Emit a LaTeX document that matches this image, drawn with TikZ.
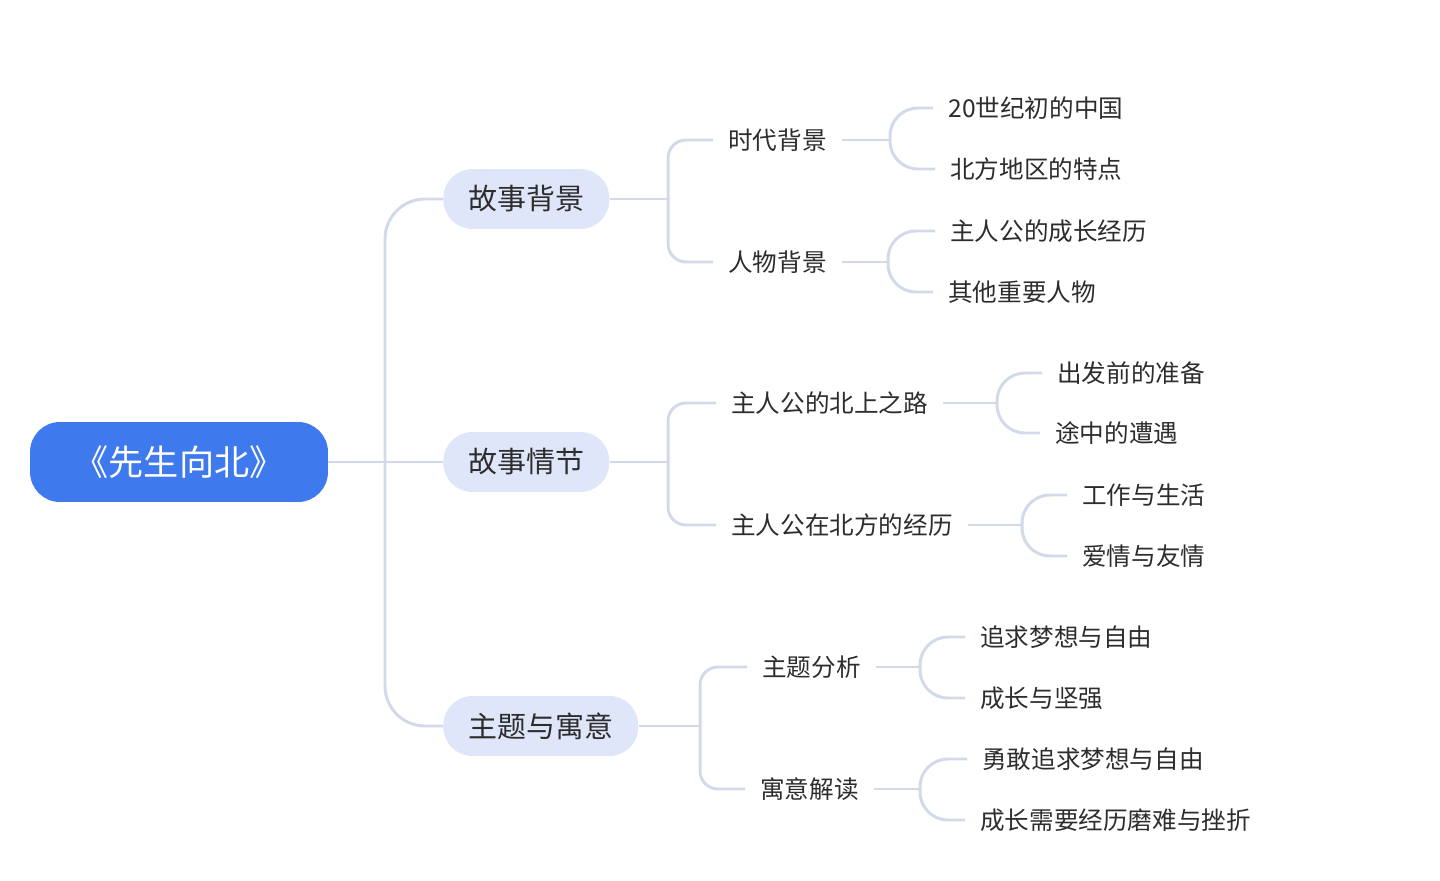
\documentclass[tikz,border=0pt]{standalone}
\usepackage{fontspec}
\newfontfamily\cjk{Noto Sans CJK SC}
\usetikzlibrary{positioning}

\definecolor{rootblue}{RGB}{62,121,237}
\definecolor{pillblue}{RGB}{224,230,250}
\definecolor{linkgray}{RGB}{210,217,233}
\definecolor{textgray}{RGB}{45,45,45}

\tikzset{
  rootnode/.style={fill=rootblue,text=white,rectangle,rounded corners=0.6cm,minimum width=5.96cm,minimum height=1.6cm,font=\cjk\fontsize{20}{24}\selectfont},
  pillnode/.style={fill=pillblue,text=textgray,rectangle,rounded corners=0.58cm,minimum height=1.2cm,inner xsep=0.5cm,anchor=west,font=\cjk\fontsize{16.5}{20}\selectfont},
  topicnode/.style={text=textgray,inner xsep=0.3cm,anchor=west,font=\cjk\fontsize{14}{17}\selectfont},
  link/.style={draw=linkgray,line width=1.7pt},
}

\begin{document}
\begin{tikzpicture}[x=0.02cm,y=-0.02cm]

    \useasboundingbox (0,0) rectangle (1440,881);

    % root
    \node[rootnode](root)at(179,462){《先生向北》};

    % first level
    \node[pillnode](bg)at(443,199){故事背景};
    \node[pillnode](plot)at(443,462){故事情节};
    \node[pillnode](theme)at(443,726){主题与寓意};

    % second level
    \node[topicnode](era)at(713,140){时代背景};
    \node[topicnode](people)at(713,262){人物背景};
    \node[topicnode](road)at(716,403){主人公的北上之路};
    \node[topicnode](north)at(716,525){主人公在北方的经历};
    \node[topicnode](analysis)at(747,667){主题分析};
    \node[topicnode](meaning)at(745,789){寓意解读};

    % third level
    \node[topicnode](eraa)at(933,108){20世纪初的中国};
    \node[topicnode](erab)at(935,169){北方地区的特点};
    \node[topicnode](peoplea)at(935,231){主人公的成长经历};
    \node[topicnode](peopleb)at(933,292){其他重要人物};
    \node[topicnode](roada)at(1042,373){出发前的准备};
    \node[topicnode](roadb)at(1040,433){途中的遭遇};
    \node[topicnode](northa)at(1067,495){工作与生活};
    \node[topicnode](northb)at(1067,556){爱情与友情};
    \node[topicnode](analysisa)at(965,637){追求梦想与自由};
    \node[topicnode](analysisb)at(965,698){成长与坚强};
    \node[topicnode](meaninga)at(967,759){勇敢追求梦想与自由};
    \node[topicnode](meaningb)at(965,820){成长需要经历磨难与挫折};

    % root to first level
    \coordinate(f0)at(385,462);
    \draw[link](root.east)--(f0);
    \draw[link,rounded corners=0.8cm](f0)|-(bg.west);
    \draw[link](f0)--(plot.west);
    \draw[link,rounded corners=0.8cm](f0)|-(theme.west);

    % first level to second level
    \coordinate(f1)at(668,199);
    \draw[link](bg.east)--(f1);
    \draw[link,rounded corners=0.36cm](f1)|-(era.west);
    \draw[link,rounded corners=0.36cm](f1)|-(people.west);

    \coordinate(f2)at(668,462);
    \draw[link](plot.east)--(f2);
    \draw[link,rounded corners=0.36cm](f2)|-(road.west);
    \draw[link,rounded corners=0.36cm](f2)|-(north.west);

    \coordinate(f3)at(700,726);
    \draw[link](theme.east)--(f3);
    \draw[link,rounded corners=0.36cm](f3)|-(analysis.west);
    \draw[link,rounded corners=0.36cm](f3)|-(meaning.west);

    % second level to third level
    \coordinate(g1)at(890,140);
    \draw[link](era.east)--(g1);
    \draw[link,rounded corners=0.56cm](g1)|-(eraa.west);
    \draw[link,rounded corners=0.56cm](g1)|-(erab.west);

    \coordinate(g2)at(888,262);
    \draw[link](people.east)--(g2);
    \draw[link,rounded corners=0.56cm](g2)|-(peoplea.west);
    \draw[link,rounded corners=0.56cm](g2)|-(peopleb.west);

    \coordinate(g3)at(997,403);
    \draw[link](road.east)--(g3);
    \draw[link,rounded corners=0.56cm](g3)|-(roada.west);
    \draw[link,rounded corners=0.56cm](g3)|-(roadb.west);

    \coordinate(g4)at(1022,525);
    \draw[link](north.east)--(g4);
    \draw[link,rounded corners=0.56cm](g4)|-(northa.west);
    \draw[link,rounded corners=0.56cm](g4)|-(northb.west);

    \coordinate(g5)at(920,667);
    \draw[link](analysis.east)--(g5);
    \draw[link,rounded corners=0.56cm](g5)|-(analysisa.west);
    \draw[link,rounded corners=0.56cm](g5)|-(analysisb.west);

    \coordinate(g6)at(920,789);
    \draw[link](meaning.east)--(g6);
    \draw[link,rounded corners=0.56cm](g6)|-(meaninga.west);
    \draw[link,rounded corners=0.56cm](g6)|-(meaningb.west);

\end{tikzpicture}
\end{document}
